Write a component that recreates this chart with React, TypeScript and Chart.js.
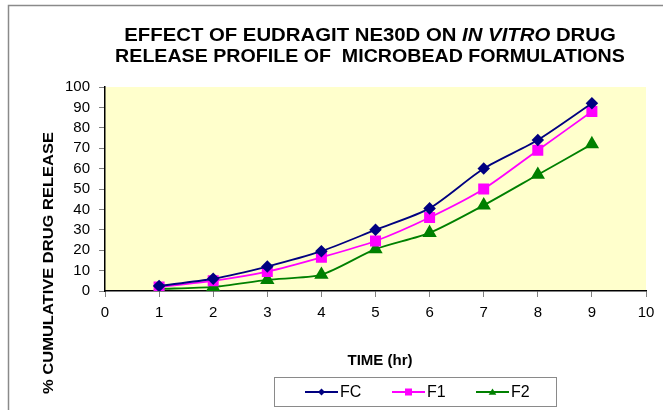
import React, { useEffect, useRef } from "react";
import { Chart, registerables } from "chart.js";

Chart.register(...registerables);

// ---- data ----
const timeHours = [1, 2, 3, 4, 5, 6, 7, 8, 9];
const seriesNames = ["FC", "F1", "F2"];
const fcValues = [2.5, 6, 12, 19.5, 30, 40.5, 60, 74, 92];
const f1Values = [2, 5, 9.5, 16.5, 24.5, 36, 50, 69, 88];
const f2Values = [1, 2, 5.5, 8, 20.5, 28.5, 42, 57, 72];
const titleLine1 = [
  { text: "EFFECT OF EUDRAGIT NE30D ON ", italic: false },
  { text: "IN VITRO", italic: true },
  { text: " DRUG", italic: false },
];
const titleLine2 = "RELEASE PROFILE OF  MICROBEAD FORMULATIONS";
const yAxisTitle = "% CUMULATIVE DRUG RELEASE";
const xAxisTitle = "TIME (hr)";

const FONT = '"Liberation Sans", Arial, Helvetica, sans-serif';
const seriesColors = ["#000080", "#FF00FF", "#008000"];
const seriesPoints = ["rectRot", "rect", "triangle"];
const seriesRadius = [5, 6.5, 6.5];

function drawMarker(ctx: CanvasRenderingContext2D, style: string, x: number, y: number, r: number, color: string) {
  ctx.save();
  ctx.fillStyle = color;
  ctx.beginPath();
  if (style === "rectRot") {
    ctx.moveTo(x, y - r);
    ctx.lineTo(x + r, y);
    ctx.lineTo(x, y + r);
    ctx.lineTo(x - r, y);
  } else if (style === "rect") {
    ctx.rect(x - r, y - r, 2 * r, 2 * r);
  } else {
    ctx.moveTo(x, y - r);
    ctx.lineTo(x + r * 1.1, y + r * 0.8);
    ctx.lineTo(x - r * 1.1, y + r * 0.8);
  }
  ctx.closePath();
  ctx.fill();
  ctx.restore();
}

const decorPlugin = {
  id: "decor",
  beforeDraw(chart: any) {
    const { ctx, chartArea } = chart;
    ctx.save();
    ctx.fillStyle = "#ffffff";
    ctx.fillRect(0, 0, chart.width, chart.height);
    ctx.fillStyle = "#FFFFCC";
    ctx.fillRect(chartArea.left, chartArea.top, chartArea.right - chartArea.left, chartArea.bottom - chartArea.top);
    ctx.restore();
  },
  afterDraw(chart: any) {
    const ctx: CanvasRenderingContext2D = chart.ctx;
    ctx.save();
    // outer frame (top & left visible)
    ctx.strokeStyle = "#8a8a8a";
    ctx.lineWidth = 1.5;
    ctx.beginPath();
    ctx.moveTo(8.5, 420);
    ctx.lineTo(8.5, 5.5);
    ctx.lineTo(680, 5.5);
    ctx.stroke();

    // title (slightly widened to match the reference's rendering)
    ctx.fillStyle = "#000";
    ctx.textBaseline = "alphabetic";
    const cx = 370;
    const fontN = `bold 18px ${FONT}`;
    const fontI = `italic bold 18px ${FONT}`;
    let total = 0;
    const widths = titleLine1.map((s) => {
      ctx.font = s.italic ? fontI : fontN;
      const w = ctx.measureText(s.text).width;
      total += w;
      return w;
    });
    ctx.save();
    ctx.translate(cx, 0);
    ctx.scale(1.13, 1);
    ctx.textAlign = "left";
    let x = -total / 2;
    titleLine1.forEach((s, i) => {
      ctx.font = s.italic ? fontI : fontN;
      ctx.fillText(s.text, x, 41);
      x += widths[i];
    });
    ctx.restore();
    ctx.save();
    ctx.translate(cx, 0);
    ctx.scale(1.09, 1);
    ctx.font = fontN;
    ctx.textAlign = "center";
    ctx.fillText(titleLine2, 0, 62);
    ctx.restore();

    // x axis title
    ctx.font = `bold 15px ${FONT}`;
    ctx.textAlign = "center";
    ctx.textBaseline = "middle";
    ctx.fillText(xAxisTitle, 380, 361);

    // y axis title
    ctx.save();
    ctx.translate(49, 263);
    ctx.rotate(-Math.PI / 2);
    ctx.scale(1.1, 1);
    ctx.font = `bold 15px ${FONT}`;
    ctx.textAlign = "center";
    ctx.fillText(yAxisTitle, 0, 0);
    ctx.restore();

    // legend
    ctx.strokeStyle = "#8a8a8a";
    ctx.lineWidth = 1;
    ctx.strokeRect(274.5, 377.5, 282, 29);
    const ly = 392;
    const startXs = [305, 392, 476];
    chart.data.datasets.forEach((ds: any, i: number) => {
      const lx = startXs[i];
      ctx.strokeStyle = ds.borderColor;
      ctx.lineWidth = 2;
      ctx.beginPath();
      ctx.moveTo(lx, ly);
      ctx.lineTo(lx + 33, ly);
      ctx.stroke();
      drawMarker(ctx, ds.pointStyle, lx + 16.5, ly, 3.5, ds.borderColor);
      ctx.fillStyle = "#000";
      ctx.font = `16px ${FONT}`;
      ctx.textAlign = "left";
      ctx.textBaseline = "middle";
      ctx.fillText(ds.label, lx + 35, ly + 1);
    });
    ctx.restore();
  },
};

export default function App() {
  const canvasRef = useRef<HTMLCanvasElement | null>(null);

  useEffect(() => {
    const canvas = canvasRef.current;
    if (!canvas) return;
    const seriesValues = [fcValues, f1Values, f2Values];
    const chart = new Chart(canvas, {
      type: "line",
      data: {
        datasets: seriesNames.map((name, i) => ({
          label: name,
          data: timeHours.map((t, j) => ({ x: t, y: seriesValues[i][j] })),
          borderColor: seriesColors[i],
          backgroundColor: seriesColors[i],
          pointBackgroundColor: seriesColors[i],
          pointBorderColor: seriesColors[i],
          pointStyle: seriesPoints[i],
          pointRadius: seriesRadius[i],
          borderWidth: 1.8,
          tension: 0.25,
          fill: false,
        })),
      },
      options: {
        responsive: false,
        animation: false,
        devicePixelRatio: 1,
        layout: { padding: { top: 87, right: 17, left: 0, bottom: 0 } },
        plugins: {
          legend: { display: false },
          title: { display: false },
          tooltip: { enabled: false },
        },
        scales: {
          x: {
            type: "linear",
            min: 0,
            max: 10,
            afterFit: (s: any) => {
              s.height = 119;
            },
            ticks: {
              stepSize: 1,
              autoSkip: false,
              color: "#000",
              font: { family: FONT, size: 15 },
              padding: 7,
              maxRotation: 0,
            },
            grid: {
              drawOnChartArea: false,
              drawTicks: true,
              tickLength: 6,
              color: "#808080",
            },
            border: { display: true, color: "#000", width: 1.5 },
          },
          y: {
            type: "linear",
            min: 0,
            max: 100,
            afterFit: (s: any) => {
              s.width = 105;
            },
            ticks: {
              stepSize: 10,
              autoSkip: false,
              color: "#000",
              font: { family: FONT, size: 15 },
              padding: 9,
            },
            grid: {
              drawOnChartArea: false,
              drawTicks: true,
              tickLength: 6,
              color: "#808080",
            },
            border: { display: true, color: "#000", width: 1.5 },
          },
        },
      },
      plugins: [decorPlugin],
    } as any);
    return () => chart.destroy();
  }, []);

  return (
    <div style={{ position: "fixed", left: 0, top: 0, width: 663, height: 410, background: "#fff" }}>
      <canvas ref={canvasRef} width={663} height={410} style={{ display: "block", width: 663, height: 410 }} />
    </div>
  );
}
